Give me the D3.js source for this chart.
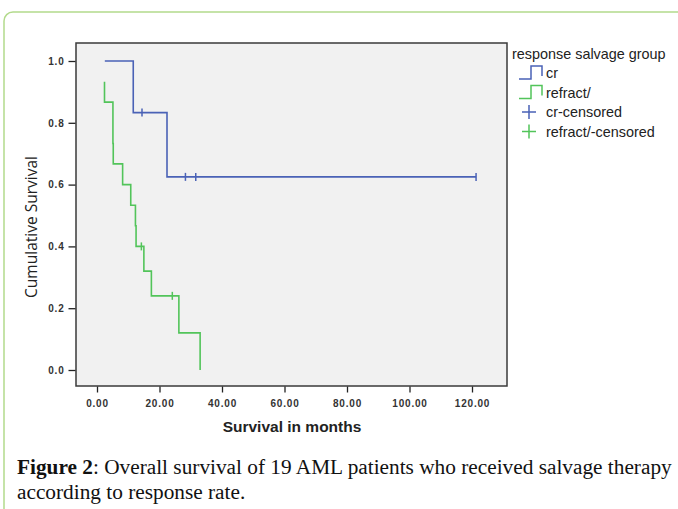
<!DOCTYPE html>
<html>
<head>
<meta charset="utf-8">
<script src="https://cdn.jsdelivr.net/npm/d3@7"></script>
<style>
  body { margin: 0; background: #fff; }
  .axis text { font-family: "Liberation Sans", Arial, sans-serif; font-size: 10px; font-weight: bold; fill: #333; letter-spacing: 0.8px; }
  .axis line { stroke: #222; stroke-width: 1.3; }
  .axis path { display: none; }
  .legend text { font-family: "Liberation Sans", Arial, sans-serif; font-size: 14.4px; fill: #222; }
</style>
</head>
<body>
<div id="chart"></div>
<script>
// cr group: survival step points (time in months, cumulative survival)
var crTimes = [2.5, 11.6, 22.4, 121.3];
var crSurv  = [1.0, 0.833, 0.625, 0.625];
var crCensTimes = [14.4, 28.3, 31.6, 121.3];
var crCensSurv  = [0.833, 0.625, 0.625, 0.625];

// refract/ group
var rfTimes = [2.4, 2.4, 5.1, 5.2, 8.2, 10.8, 12.3, 12.5, 15.0, 17.4, 26.2, 33.0];
var rfSurv  = [0.933, 0.867, 0.733, 0.667, 0.6, 0.533, 0.467, 0.4, 0.32, 0.24, 0.12, 0.0];
var rfCensTimes = [14.2, 24.1];
var rfCensSurv  = [0.4, 0.24];

var xTicks = [0, 20, 40, 60, 80, 100, 120];
var yTicks = [0, 0.2, 0.4, 0.6, 0.8, 1.0];
var legendLabels = ["cr", "refract/", "cr-censored", "refract/-censored"];

var blue = "#4a62b6", green = "#52c45a";

var outerWidth = 678, outerHeight = 509;
var frame = {left: 76, top: 43, right: 507, bottom: 386};

var svg = d3.select("#chart")
    .append("svg")
    .attr("width", outerWidth)
    .attr("height", outerHeight);

// green page border
svg.append("rect")
    .attr("x", 4).attr("y", 12)
    .attr("width", 700).attr("height", 520)
    .attr("rx", 9)
    .attr("fill", "none")
    .attr("stroke", "#b3da8c")
    .attr("stroke-width", 1.5);

var xScale = d3.scaleLinear().domain([0, 120]).range([97, 472]);
var yScale = d3.scaleLinear().domain([0, 1]).range([370, 61]);

// plot frame
svg.append("rect")
    .attr("x", frame.left).attr("y", frame.top)
    .attr("width", frame.right - frame.left)
    .attr("height", frame.bottom - frame.top)
    .attr("fill", "#f1f1f1")
    .attr("stroke", "#3a3a3a")
    .attr("stroke-width", 1.5);

svg.append("g")
    .attr("class", "axis x-axis")
    .attr("transform", "translate(0," + (frame.bottom + 0.5) + ")")
    .call(d3.axisBottom(xScale).tickValues(xTicks).tickFormat(d3.format(".2f")).tickSize(6).tickPadding(7));

svg.append("g")
    .attr("class", "axis y-axis")
    .attr("transform", "translate(" + (frame.left - 0.5) + ",0)")
    .call(d3.axisLeft(yScale).tickValues(yTicks).tickFormat(d3.format(".1f")).tickSize(7).tickPadding(4));

// axis titles
svg.append("text")
    .attr("x", 292).attr("y", 432)
    .attr("text-anchor", "middle")
    .style("font-family", "Liberation Sans, Arial, sans-serif")
    .style("font-weight", "bold")
    .style("font-size", "15.5px")
    .style("fill", "#222")
    .text("Survival in months");

svg.append("text")
    .attr("transform", "translate(37,227) rotate(-90)")
    .attr("text-anchor", "middle")
    .style("font-family", "Open Sans, sans-serif")
    .style("font-size", "15.5px")
    .style("fill", "#222")
    .text("Cumulative Survival");

// survival curves
var line = d3.line()
    .x(function(d) { return xScale(d[0]); })
    .y(function(d) { return yScale(d[1]); })
    .curve(d3.curveStepAfter);

var series = [
    {pts: d3.zip(crTimes, crSurv), cens: d3.zip(crCensTimes, crCensSurv), color: blue},
    {pts: d3.zip(rfTimes, rfSurv), cens: d3.zip(rfCensTimes, rfCensSurv), color: green}
];

series.forEach(function(s) {
    svg.append("path")
        .attr("d", line(s.pts))
        .attr("fill", "none")
        .attr("stroke", s.color)
        .attr("stroke-width", 1.6);

    svg.selectAll(null)
        .data(s.cens)
        .enter()
        .append("line")
        .attr("x1", function(d) { return xScale(d[0]); })
        .attr("x2", function(d) { return xScale(d[0]); })
        .attr("y1", function(d) { return yScale(d[1]) - 4; })
        .attr("y2", function(d) { return yScale(d[1]) + 4; })
        .attr("stroke", s.color)
        .attr("stroke-width", 1.5);
});

// legend
var legend = svg.append("g").attr("class", "legend");
legend.append("text").attr("x", 512).attr("y", 59).text("response salvage group");

var legendColors = [blue, green, blue, green];
legendLabels.forEach(function(lbl, i) {
    var cy = 73 + i * 19.5;
    if (i < 2) {
        legend.append("path")
            .attr("d", "M519," + (cy + 6) + "H531V" + (cy - 7) + "H542V" + (cy + 3))
            .attr("fill", "none")
            .attr("stroke", legendColors[i])
            .attr("stroke-width", 1.5);
    } else {
        legend.append("path")
            .attr("d", "M522," + cy + "H536M529," + (cy - 7) + "V" + (cy + 7))
            .attr("fill", "none")
            .attr("stroke", legendColors[i])
            .attr("stroke-width", 1.5);
    }
    legend.append("text")
        .attr("x", 546)
        .attr("y", cy + 5)
        .text(lbl);
});

// caption
var caption = svg.append("text")
    .attr("x", 17).attr("y", 474)
    .style("font-family", "Liberation Serif, Times New Roman, serif")
    .style("font-size", "21.3px")
    .style("fill", "#111");
caption.append("tspan").style("font-weight", "bold").text("Figure 2");
caption.append("tspan").text(": Overall survival of 19 AML patients who received salvage therapy");

svg.append("text")
    .attr("x", 17).attr("y", 499)
    .style("font-family", "Liberation Serif, Times New Roman, serif")
    .style("font-size", "21.3px")
    .style("fill", "#111")
    .text("according to response rate.");
</script>
</body>
</html>
